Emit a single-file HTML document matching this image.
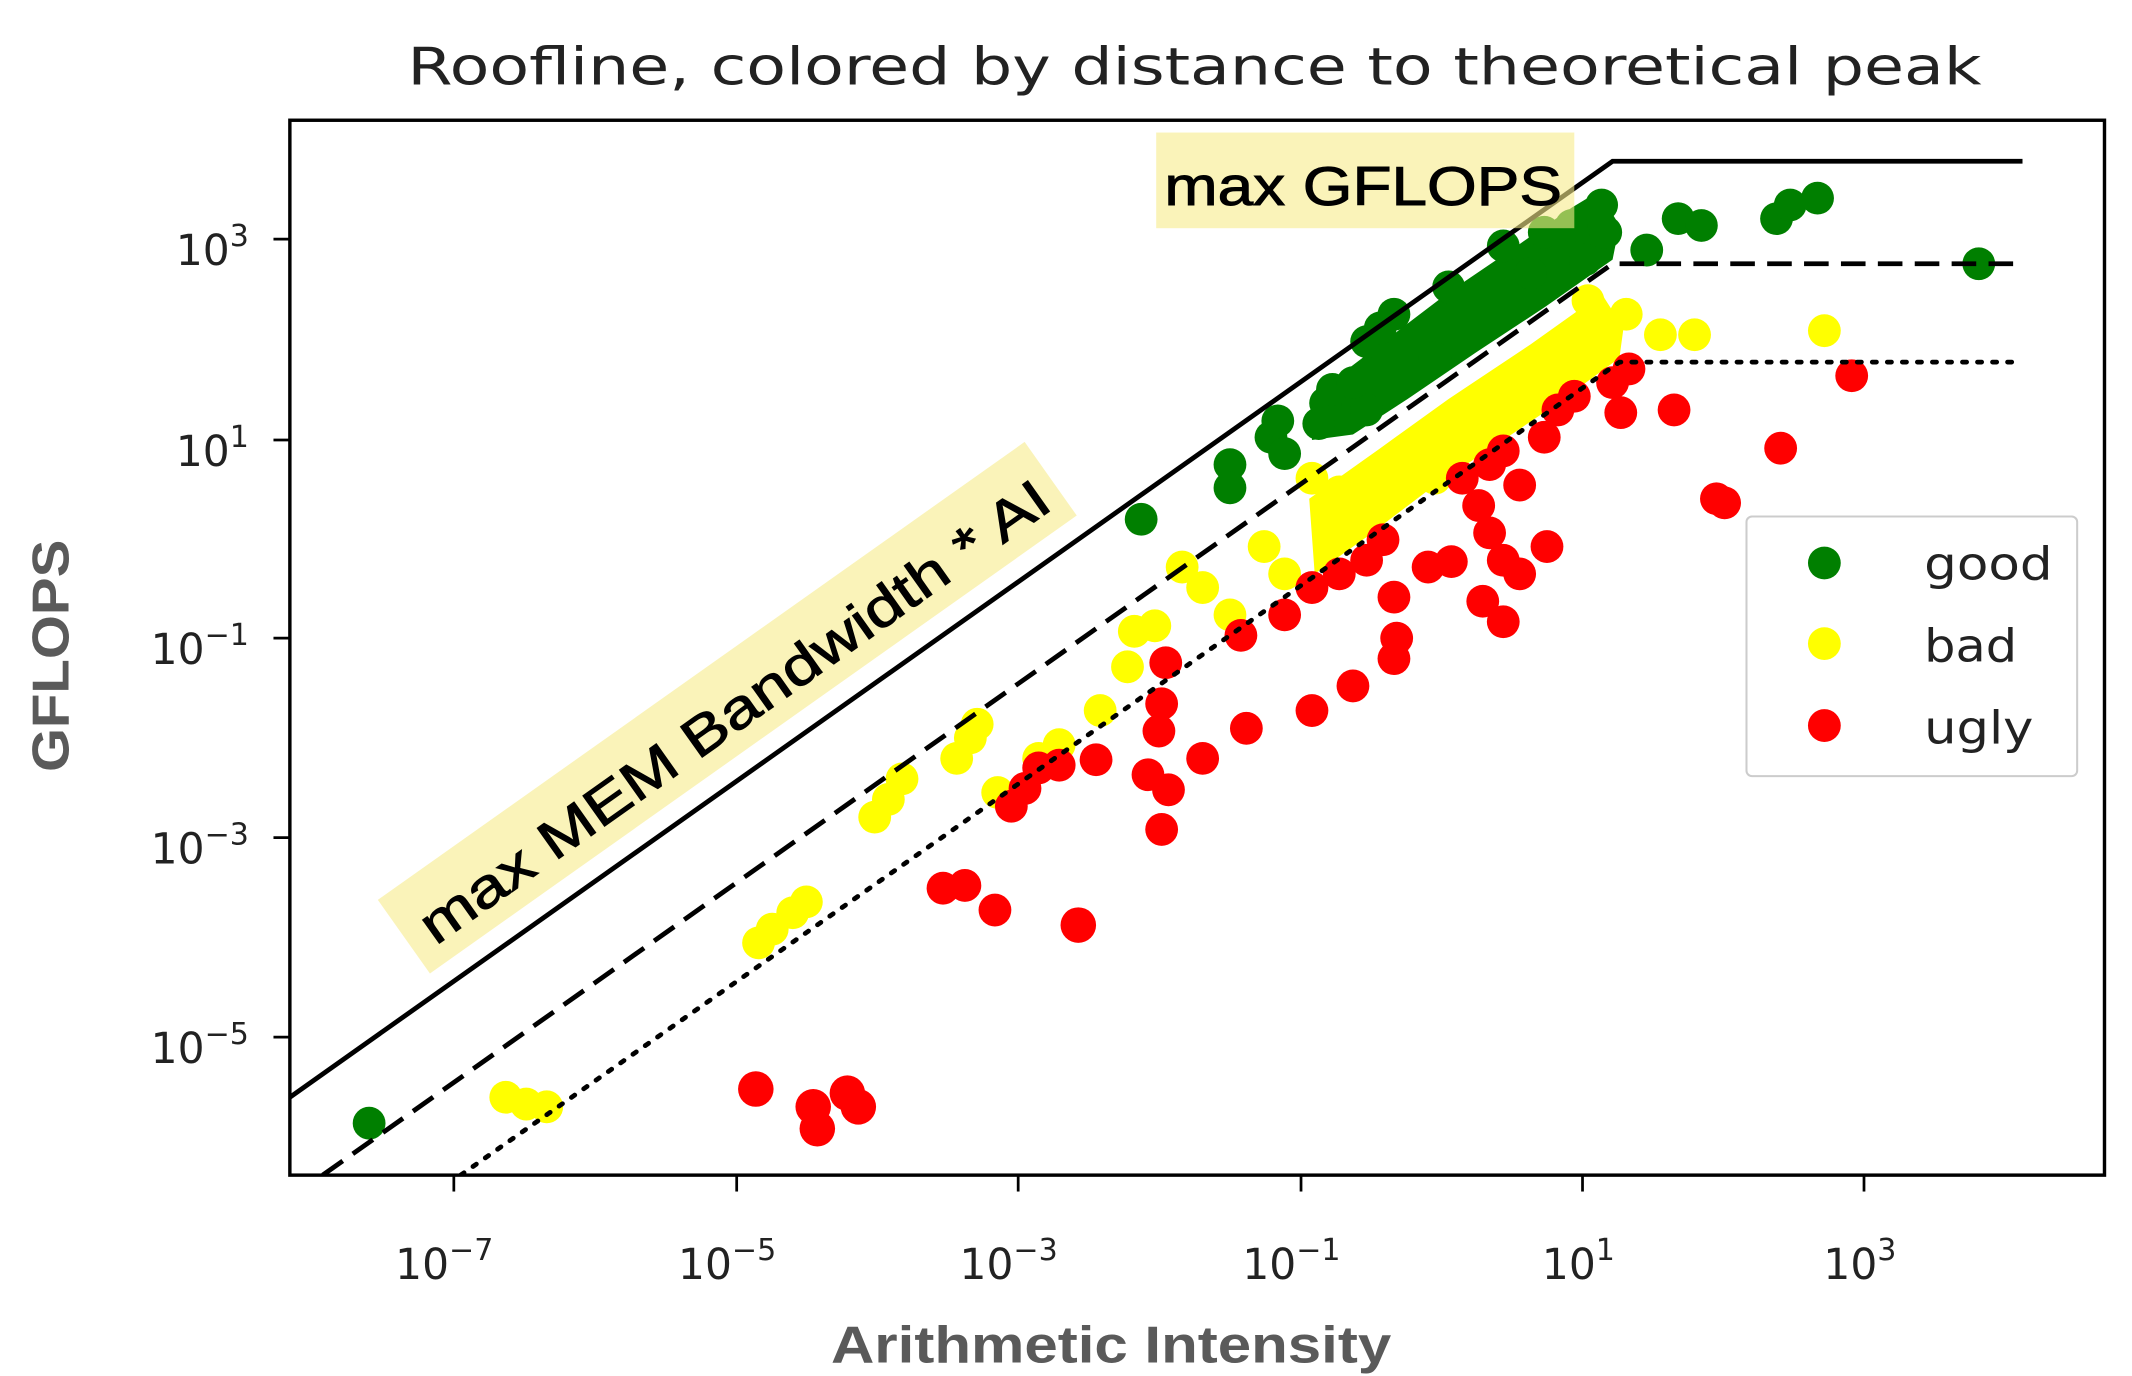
<!DOCTYPE html>
<html><head><meta charset="utf-8"><style>
html,body{margin:0;padding:0;background:#fff;}
svg{display:block;}
</style></head><body>
<svg width="2132" height="1376" viewBox="0 0 1560 1007" xmlns="http://www.w3.org/2000/svg" font-family="DejaVu Sans, Liberation Sans, sans-serif">
<rect width="1560" height="1007" fill="#fff"/>
<text x="298" y="62" font-size="38" textLength="1152" lengthAdjust="spacingAndGlyphs" fill="#222">Roofline, colored by distance to theoretical peak</text>

<clipPath id="c"><rect x="212" y="88" width="1328" height="772"/></clipPath>
<g clip-path="url(#c)">
<!-- yellow -->
<g fill="#ffff00">
<polygon points="958,365 1010,328 1060,292 1120,252 1172,215 1188,240 1185,262 1140,295 1100,322 1050,355 1000,393 962,420"/>
<circle cx="370" cy="803" r="12"/><circle cx="385" cy="808" r="12"/><circle cx="400" cy="810" r="12"/><circle cx="555" cy="690" r="12"/><circle cx="565" cy="680" r="12"/><circle cx="580" cy="668" r="12"/><circle cx="590" cy="660" r="12"/><circle cx="640" cy="598" r="12"/><circle cx="650" cy="585" r="12"/><circle cx="660" cy="570" r="12"/><circle cx="700" cy="555" r="12"/><circle cx="710" cy="540" r="12"/><circle cx="715" cy="530" r="12"/><circle cx="730" cy="580" r="12"/><circle cx="760" cy="555" r="12"/><circle cx="775" cy="545" r="12"/><circle cx="805" cy="520" r="12"/><circle cx="825" cy="488" r="12"/><circle cx="830" cy="462" r="12"/><circle cx="845" cy="458" r="12"/><circle cx="865" cy="415" r="12"/><circle cx="880" cy="430" r="12"/><circle cx="900" cy="450" r="12"/><circle cx="925" cy="400" r="12"/><circle cx="940" cy="420" r="12"/><circle cx="960" cy="350" r="12"/><circle cx="980" cy="360" r="12"/><circle cx="1005" cy="350" r="12"/><circle cx="1050" cy="350" r="12"/><circle cx="1060" cy="320" r="12"/><circle cx="1100" cy="300" r="12"/><circle cx="1160" cy="245" r="12"/><circle cx="1162" cy="220" r="12"/><circle cx="1190" cy="230" r="12"/><circle cx="1215" cy="245" r="12"/><circle cx="1240" cy="245" r="12"/><circle cx="1335" cy="242" r="12"/>
</g>
<!-- green -->
<g fill="#007f00">
<polygon points="960,290 1010,252 1060,214 1110,180 1150,152 1170,140 1185,165 1180,190 1130,225 1080,258 1030,292 990,318 960,322"/>
<circle cx="270" cy="822" r="12"/><circle cx="835" cy="380" r="12"/><circle cx="900" cy="340" r="12"/><circle cx="900" cy="357" r="12"/><circle cx="930" cy="320" r="12"/><circle cx="935" cy="308" r="12"/><circle cx="940" cy="332" r="12"/><circle cx="970" cy="295" r="12"/><circle cx="975" cy="285" r="12"/><circle cx="1000" cy="250" r="12"/><circle cx="1020" cy="230" r="12"/><circle cx="1060" cy="210" r="12"/><circle cx="1100" cy="180" r="12"/><circle cx="1130" cy="170" r="12"/><circle cx="1150" cy="165" r="12"/><circle cx="1172" cy="150" r="12"/><circle cx="1175" cy="170" r="12"/><circle cx="1160" cy="190" r="12"/><circle cx="1205" cy="183" r="12"/><circle cx="1228" cy="160" r="12"/><circle cx="1245" cy="165" r="12"/><circle cx="1300" cy="160" r="12"/><circle cx="1310" cy="150" r="12"/><circle cx="1330" cy="145" r="12"/><circle cx="1448" cy="193" r="12"/><circle cx="1000" cy="300" r="12"/><circle cx="1050" cy="262" r="12"/><circle cx="990" cy="280" r="12"/><circle cx="1010" cy="240" r="12"/><circle cx="965" cy="310" r="12"/><circle cx="1120" cy="200" r="12"/>
</g>
<!-- red -->
<g fill="#ff0000">
<circle cx="553" cy="797" r="13"/><circle cx="595" cy="810" r="13"/><circle cx="598" cy="826" r="13"/><circle cx="620" cy="800" r="13"/><circle cx="628" cy="810" r="13"/><circle cx="690" cy="650" r="12"/><circle cx="706" cy="648" r="12"/><circle cx="728" cy="666" r="12"/><circle cx="789" cy="677" r="13"/><circle cx="740" cy="590" r="12"/><circle cx="750" cy="577" r="12"/><circle cx="760" cy="562" r="12"/><circle cx="775" cy="560" r="12"/><circle cx="802" cy="556" r="12"/><circle cx="840" cy="567" r="12"/><circle cx="855" cy="578" r="12"/><circle cx="850" cy="607" r="12"/><circle cx="850" cy="515" r="12"/><circle cx="848" cy="535" r="12"/><circle cx="853" cy="485" r="12"/><circle cx="880" cy="555" r="12"/><circle cx="912" cy="533" r="12"/><circle cx="960" cy="520" r="12"/><circle cx="990" cy="502" r="12"/><circle cx="908" cy="465" r="12"/><circle cx="940" cy="450" r="12"/><circle cx="960" cy="430" r="12"/><circle cx="980" cy="420" r="12"/><circle cx="1000" cy="410" r="12"/><circle cx="1012" cy="395" r="12"/><circle cx="1020" cy="437" r="12"/><circle cx="1022" cy="467" r="12"/><circle cx="1020" cy="482" r="12"/><circle cx="1045" cy="415" r="12"/><circle cx="1062" cy="411" r="12"/><circle cx="1085" cy="440" r="12"/><circle cx="1100" cy="455" r="12"/><circle cx="1100" cy="410" r="12"/><circle cx="1112" cy="420" r="12"/><circle cx="1132" cy="400" r="12"/><circle cx="1070" cy="350" r="12"/><circle cx="1082" cy="370" r="12"/><circle cx="1090" cy="340" r="12"/><circle cx="1090" cy="390" r="12"/><circle cx="1112" cy="355" r="12"/><circle cx="1100" cy="330" r="12"/><circle cx="1130" cy="320" r="12"/><circle cx="1140" cy="300" r="12"/><circle cx="1152" cy="290" r="12"/><circle cx="1180" cy="280" r="12"/><circle cx="1192" cy="270" r="12"/><circle cx="1186" cy="302" r="12"/><circle cx="1225" cy="300" r="12"/><circle cx="1256" cy="365" r="12"/><circle cx="1262" cy="368" r="12"/><circle cx="1303" cy="328" r="12"/><circle cx="1355" cy="275" r="12"/>
</g>
<!-- roofs -->
<g fill="none" stroke="#000" stroke-width="3.5">
<polyline points="212,803 1180,118 1480,118"/>
<polyline points="236,860 1180,193 1480,193" stroke-dasharray="18,9"/>
<polyline points="337,860 1185,265 1475,265" stroke-dasharray="3,8" stroke-linecap="round"/>
</g>
</g>

<!-- annotation boxes -->
<rect x="846" y="97" width="306" height="70" fill="#f7eb8a" fill-opacity="0.6"/>
<g transform="translate(535,522) rotate(-35.3)">
<rect x="-290" y="-38" width="580" height="66" fill="#f7eb8a" fill-opacity="0.6"/>
<text x="-275" y="14" font-size="40" font-family="Liberation Sans, sans-serif" textLength="555" lengthAdjust="spacingAndGlyphs" fill="#000" stroke="#000" stroke-width="0.7">max MEM Bandwidth * AI</text>
</g>
<text x="852" y="150" font-size="40" font-family="Liberation Sans, sans-serif" textLength="291" lengthAdjust="spacingAndGlyphs" fill="#000" stroke="#000" stroke-width="0.7">max GFLOPS</text>

<!-- axes -->
<rect x="212" y="88" width="1328" height="772" fill="none" stroke="#000" stroke-width="2.5"/>
<g stroke="#000" stroke-width="2">
<line x1="332" y1="860" x2="332" y2="872"/><line x1="539" y1="860" x2="539" y2="872"/><line x1="745" y1="860" x2="745" y2="872"/><line x1="952" y1="860" x2="952" y2="872"/><line x1="1158" y1="860" x2="1158" y2="872"/><line x1="1364" y1="860" x2="1364" y2="872"/>
<line x1="200" y1="175" x2="212" y2="175"/><line x1="200" y1="322" x2="212" y2="322"/><line x1="200" y1="467" x2="212" y2="467"/><line x1="200" y1="613" x2="212" y2="613"/><line x1="200" y1="759" x2="212" y2="759"/>
</g>
<g font-size="31" fill="#222" text-anchor="middle">
<text x="325" y="936">10<tspan dy="-14" font-size="22">−7</tspan></text>
<text x="532" y="936">10<tspan dy="-14" font-size="22">−5</tspan></text>
<text x="738" y="936">10<tspan dy="-14" font-size="22">−3</tspan></text>
<text x="945" y="936">10<tspan dy="-14" font-size="22">−1</tspan></text>
<text x="1155" y="936">10<tspan dy="-14" font-size="22">1</tspan></text>
<text x="1361" y="936">10<tspan dy="-14" font-size="22">3</tspan></text>
</g>
<g font-size="31" fill="#222" text-anchor="end">
<text x="182" y="194">10<tspan dy="-14" font-size="22">3</tspan></text>
<text x="182" y="341">10<tspan dy="-14" font-size="22">1</tspan></text>
<text x="182" y="486">10<tspan dy="-14" font-size="22">−1</tspan></text>
<text x="182" y="632">10<tspan dy="-14" font-size="22">−3</tspan></text>
<text x="182" y="778">10<tspan dy="-14" font-size="22">−5</tspan></text>
</g>
<text x="608" y="997" font-size="38" font-weight="bold" font-family="Liberation Sans, sans-serif" textLength="410" lengthAdjust="spacingAndGlyphs" fill="#5a5a5a">Arithmetic Intensity</text>
<text transform="translate(50,565) rotate(-90)" font-size="38" font-weight="bold" font-family="Liberation Sans, sans-serif" textLength="170" lengthAdjust="spacingAndGlyphs" fill="#5a5a5a">GFLOPS</text>

<!-- legend -->
<rect x="1278" y="378" width="242" height="190" rx="4" fill="#fff" stroke="#ccc" stroke-width="1.5"/>
<circle cx="1335" cy="412" r="12" fill="#007f00"/>
<circle cx="1335" cy="471" r="12" fill="#ffff00"/>
<circle cx="1335" cy="531" r="12" fill="#ff0000"/>
<g font-size="33" fill="#222">
<text x="1408" y="424" textLength="94" lengthAdjust="spacingAndGlyphs">good</text>
<text x="1408" y="484" textLength="68" lengthAdjust="spacingAndGlyphs">bad</text>
<text x="1408" y="544" textLength="80" lengthAdjust="spacingAndGlyphs">ugly</text>
</g>
</svg>
</body></html>
